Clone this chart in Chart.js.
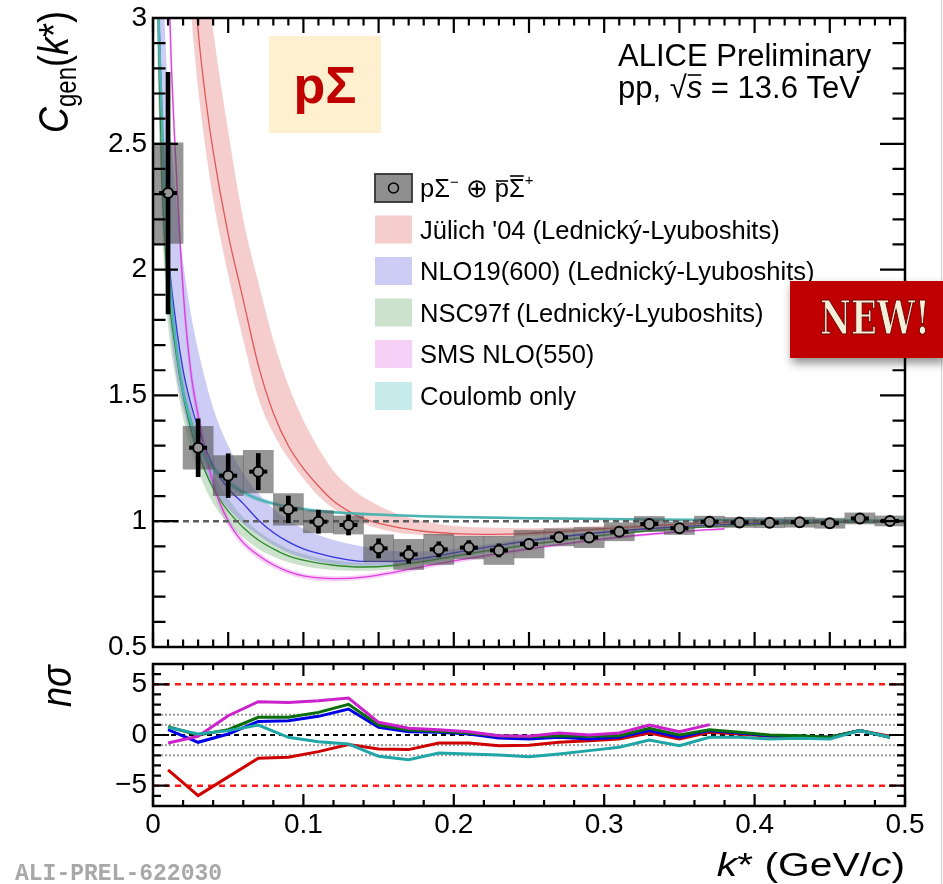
<!DOCTYPE html>
<html lang="en">
<head>
<meta charset="utf-8">
<title>pSigma correlation</title>
<script src="https://cdn.jsdelivr.net/npm/chart.js@4.4.1/dist/chart.umd.min.js"></script>
<style>
  * { margin: 0; padding: 0; box-sizing: border-box; }
  body { width: 943px; height: 884px; background: #fff; overflow: hidden; position: relative; }
  #top { position: absolute; left: 0; top: 0; }
  #bottom { position: absolute; left: 0; top: 652px; }
</style>
</head>
<body>
<canvas id="top" width="943" height="670"></canvas>
<canvas id="bottom" width="943" height="232"></canvas>
<script>
const FONT = "'Liberation Sans', Arial, Helvetica, sans-serif";

// measured correlation function (bin centres, value, stat and syst errors)
const kBins = [0.01,0.03,0.05,0.07,0.09,0.11,0.13,0.15,0.17,0.19,0.21,0.23,0.25,0.27,0.29,0.31,0.33,0.35,0.37,0.39,0.41,0.43,0.45,0.47,0.49];
const cgen = [2.304,1.292,1.181,1.197,1.047,0.998,0.985,0.892,0.868,0.888,0.895,0.884,0.909,0.936,0.935,0.958,0.989,0.972,0.998,0.995,0.994,0.996,0.992,1.011,1.001];
const statErr = [0.48,0.115,0.087,0.072,0.053,0.046,0.04,0.038,0.035,0.03,0.028,0.026,0.02,0.016,0.014,0.012,0.011,0.01,0.01,0.009,0.009,0.008,0.008,0.008,0.008];
const sysErr = [0.2,0.085,0.08,0.085,0.063,0.044,0.036,0.054,0.06,0.06,0.045,0.056,0.055,0.034,0.04,0.036,0.03,0.025,0.022,0.02,0.02,0.02,0.02,0.022,0.02];

// model curves: central value and band edges
const kRed = [0.02,0.025,0.03,0.035,0.04,0.05,0.06,0.07,0.08,0.09,0.10,0.11,0.12,0.13,0.14,0.16,0.18,0.20,0.22,0.25,0.30,0.35,0.40,0.45,0.50];
const julichMid = [3.9,3.35,2.95,2.68,2.47,2.14,1.88,1.62,1.43,1.30,1.21,1.14,1.08,1.04,1.01,0.978,0.96,0.951,0.948,0.952,0.97,0.987,0.996,0.999,1.0];
const julichHi = [5.0,4.3,3.6,3.2,2.95,2.55,2.2,1.95,1.72,1.54,1.40,1.29,1.2,1.14,1.095,1.035,1.0,0.982,0.975,0.972,0.982,0.993,0.998,1.0,1.0];
const julichLo = [3.5,3.05,2.72,2.48,2.28,1.98,1.72,1.49,1.35,1.25,1.17,1.10,1.05,1.015,0.99,0.957,0.945,0.94,0.938,0.942,0.962,0.983,0.994,0.998,1.0];

const kTh = [0.002,0.004,0.006,0.008,0.01,0.015,0.02,0.025,0.03,0.04,0.05,0.06,0.07,0.08,0.09,0.10,0.11,0.12,0.13,0.14,0.16,0.18,0.20,0.22,0.25,0.30,0.35,0.40,0.45,0.50];
const nloMid = [3.6,3.0,2.6,2.3,2.08,1.8,1.6,1.47,1.37,1.22,1.13,1.07,1.005,0.955,0.918,0.89,0.872,0.857,0.846,0.84,0.84,0.853,0.874,0.895,0.922,0.956,0.978,0.99,0.996,0.999];
const nloHi = [4.5,3.8,3.3,2.95,2.7,2.3,2.03,1.83,1.68,1.45,1.3,1.19,1.11,1.05,1.005,0.97,0.945,0.925,0.91,0.898,0.882,0.88,0.89,0.905,0.93,0.962,0.982,0.992,0.997,1.0];
const nloLo = [3.2,2.6,2.25,2.0,1.85,1.6,1.45,1.34,1.26,1.13,1.05,0.99,0.945,0.905,0.875,0.855,0.84,0.83,0.825,0.823,0.826,0.84,0.862,0.884,0.914,0.95,0.974,0.988,0.995,0.998];
const nscMid = [3.5,2.8,2.35,2.1,1.92,1.68,1.5,1.37,1.27,1.13,1.04,0.975,0.925,0.89,0.862,0.845,0.833,0.825,0.82,0.818,0.824,0.84,0.86,0.88,0.906,0.945,0.97,0.985,0.994,0.998];
const nscHi = [3.8,3.05,2.55,2.28,2.08,1.8,1.6,1.46,1.35,1.19,1.09,1.015,0.96,0.92,0.89,0.87,0.855,0.845,0.838,0.834,0.836,0.85,0.868,0.887,0.912,0.949,0.973,0.987,0.995,0.999];
const nscLo = [3.2,2.6,2.18,1.95,1.78,1.57,1.41,1.29,1.2,1.07,0.99,0.935,0.89,0.86,0.837,0.822,0.812,0.806,0.803,0.803,0.81,0.828,0.85,0.872,0.9,0.94,0.967,0.983,0.993,0.997];
const coulMid = [3.7,2.95,2.6,2.3,2.05,1.72,1.52,1.4,1.31,1.21,1.155,1.115,1.088,1.07,1.057,1.048,1.041,1.036,1.032,1.029,1.024,1.02,1.017,1.015,1.012,1.009,1.006,1.004,1.003,1.002];
const coulHi = [3.8,3.03,2.67,2.36,2.1,1.76,1.55,1.43,1.335,1.228,1.17,1.127,1.098,1.079,1.065,1.055,1.048,1.042,1.038,1.035,1.029,1.025,1.022,1.02,1.017,1.013,1.01,1.008,1.007,1.006];
const coulLo = [3.6,2.87,2.53,2.24,2.0,1.68,1.49,1.37,1.285,1.192,1.14,1.103,1.078,1.061,1.049,1.041,1.034,1.03,1.026,1.023,1.019,1.015,1.012,1.01,1.007,1.005,1.002,1.0,0.999,0.998];

const kSms = [0.006,0.008,0.01,0.012,0.015,0.02,0.025,0.03,0.04,0.05,0.06,0.07,0.08,0.09,0.10,0.11,0.12,0.14,0.16,0.18,0.20,0.22,0.25,0.30,0.35,0.38];
const smsMid = [4.5,3.8,3.25,2.85,2.45,1.92,1.6,1.42,1.15,1.0,0.915,0.865,0.827,0.8,0.783,0.775,0.772,0.778,0.797,0.82,0.842,0.862,0.89,0.93,0.958,0.97];
const smsHi = [4.7,3.95,3.37,2.95,2.53,1.98,1.65,1.46,1.18,1.02,0.93,0.878,0.838,0.81,0.792,0.784,0.781,0.787,0.806,0.828,0.85,0.869,0.896,0.935,0.962,0.974];
const smsLo = [4.3,3.65,3.13,2.75,2.37,1.86,1.55,1.38,1.12,0.98,0.9,0.85,0.814,0.788,0.771,0.763,0.761,0.768,0.787,0.81,0.832,0.853,0.882,0.923,0.953,0.965];

// deviation in n sigma per bin
const nsJulich = [-3.44,-5.97,-4.13,-2.30,-2.2,-1.64,-0.95,-1.38,-1.44,-0.79,-0.79,-1.05,-1.0,-0.72,-0.56,-0.39,0.2,-0.39,0.26,0.1,-0.13,-0.23,-0.23,0.43,-0.13];
const nsNlo = [0.52,-0.72,0.1,1.34,1.41,1.84,2.56,0.75,0.33,0.26,0.1,-0.3,-0.39,-0.23,-0.39,-0.23,0.43,-0.23,0.43,0.2,-0.07,-0.13,-0.23,0.43,-0.23];
const nsNsc = [0.82,0.0,0.52,1.74,1.74,2.23,3.02,0.98,0.49,0.36,0.2,-0.07,-0.18,-0.07,-0.13,-0.07,0.66,0.0,0.52,0.26,0.0,-0.07,-0.23,0.43,-0.23];
const nsSms = [-0.79,-0.13,1.9,3.28,3.21,3.38,3.64,1.25,0.66,0.52,0.33,-0.07,-0.13,0.2,0.0,0.2,0.98,0.33,1.02];
const nsCoul = [0.75,0.1,0.43,0.98,-0.23,-0.66,-0.89,-2.1,-2.43,-1.77,-1.87,-1.97,-2.15,-1.87,-1.54,-1.21,-0.49,-1.05,-0.23,-0.23,-0.39,-0.33,-0.39,0.43,-0.23];

const yTicksTop = [0.5, 1, 1.5, 2, 2.5, 3];
const yTicksBottom = [-5, 0, 5];
const xTickLabels = [0, 0.1, 0.2, 0.3, 0.4, 0.5];

const models = [
  { name: "Jülich '04 (Lednický-Lyuboshits)", k: kRed, mid: julichMid, lo: julichLo, hi: julichHi,
    line: '#e05858', band: 'rgba(230,130,130,0.40)', dev: '#d00000', ns: nsJulich, w: 1.3 },
  { name: 'NLO19(600) (Lednický-Lyuboshits)', k: kTh, mid: nloMid, lo: nloLo, hi: nloHi,
    line: '#3434e0', band: 'rgba(110,110,225,0.35)', dev: '#0000e6', ns: nsNlo, w: 1.3 },
  { name: 'NSC97f (Lednický-Lyuboshits)', k: kTh, mid: nscMid, lo: nscLo, hi: nscHi,
    line: '#2d8a2d', band: 'rgba(90,160,90,0.30)', dev: '#0a6e0a', ns: nsNsc, w: 1.3 },
  { name: 'SMS NLO(550)', k: kSms, mid: smsMid, lo: smsLo, hi: smsHi,
    line: '#e03ce0', band: 'rgba(230,110,230,0.32)', dev: '#cc22cc', ns: nsSms, w: 1.3 },
  { name: 'Coulomb only', k: kTh, mid: coulMid, lo: coulLo, hi: coulHi,
    line: '#4db3b3', band: 'rgba(80,190,190,0.32)', dev: '#20a6a6', ns: nsCoul, w: 2.5 }
];

const pts = (xs, ys) => ys.map((y, i) => ({ x: xs[i], y }));

// ---- top panel datasets ----
const topSets = [];
topSets.push({ type: 'line', showLine: false, data: pts(kBins, cgen), pointStyle: 'circle', pointRadius: 5,
  pointBorderWidth: 2, pointBorderColor: '#000', pointBackgroundColor: '#979797', order: 0 });
topSets.push({ type: 'line', showLine: false, data: pts(kBins, cgen), pointStyle: 'line', pointRadius: 9,
  pointBorderWidth: 4, pointBorderColor: '#000', order: 1 });
topSets.push({ type: 'bar', data: kBins.map((k, i) => ({ x: k, y: [cgen[i] - statErr[i], cgen[i] + statErr[i]] })),
  backgroundColor: '#000', barThickness: 4, grouped: false, order: 2 });
topSets.push({ type: 'bar', data: kBins.map((k, i) => ({ x: k, y: [cgen[i] - sysErr[i], cgen[i] + sysErr[i]] })),
  backgroundColor: 'rgba(80,80,80,0.6)', barPercentage: 1, categoryPercentage: 1, grouped: false, order: 3 });
topSets.push({ type: 'line', data: [{ x: 0, y: 1 }, { x: 0.5, y: 1 }], borderColor: '#5e5e5e', borderWidth: 2.5,
  borderDash: [6, 4], pointRadius: 0, order: 4 });
models.forEach((m, i) => {
  topSets.push({ type: 'line', data: pts(m.k, m.lo), borderColor: 'transparent', borderWidth: 0, pointRadius: 0,
    fill: false, cubicInterpolationMode: 'monotone', order: 20 + i });
  topSets.push({ type: 'line', data: pts(m.k, m.hi), borderColor: 'transparent', borderWidth: 0, pointRadius: 0,
    fill: '-1', backgroundColor: m.band, cubicInterpolationMode: 'monotone', order: 20 + i });
  topSets.push({ type: 'line', data: pts(m.k, m.mid), borderColor: m.line, borderWidth: m.w, pointRadius: 0,
    fill: false, cubicInterpolationMode: 'monotone', order: 10 - i });
});

// ---- bottom panel datasets ----
const botSets = [];
const hline = (y, color, w, dash, order) => ({ type: 'line', data: [{ x: 0, y }, { x: 0.5, y }], borderColor: color,
  borderWidth: w, borderDash: dash, pointRadius: 0, order });
[2, 1, -1, -2].forEach(v => botSets.push(hline(v, '#9a9a9a', 2, [2, 2], 30)));
[5, -5].forEach(v => botSets.push(hline(v, '#ff1a1a', 2.5, [6, 5], 29)));
botSets.push(hline(0, '#000', 2, [5, 4], 28));
models.forEach((m, i) => {
  botSets.push({ type: 'line', data: pts(kBins, m.ns), borderColor: m.dev, borderWidth: 3, pointRadius: 0,
    tension: 0, order: 10 - i });
});

// ROOT-like tick marks on all four sides plus the frame
function drawFrame(chart, xt, yt) {
  const { ctx, chartArea: a, scales: { x, y } } = chart;
  ctx.save();
  ctx.strokeStyle = '#000';
  ctx.lineWidth = 2.2;
  ctx.beginPath();
  xt.forEach(t => {
    const px = x.getPixelForValue(t.v);
    ctx.moveTo(px, a.bottom); ctx.lineTo(px, a.bottom - t.len);
    ctx.moveTo(px, a.top); ctx.lineTo(px, a.top + t.len);
  });
  yt.forEach(t => {
    const py = y.getPixelForValue(t.v);
    ctx.moveTo(a.left, py); ctx.lineTo(a.left + t.len, py);
    ctx.moveTo(a.right, py); ctx.lineTo(a.right - t.len, py);
  });
  ctx.stroke();
  ctx.lineWidth = 2.5;
  ctx.strokeRect(a.left, a.top, a.right - a.left, a.bottom - a.top);
  ctx.restore();
}

// draw a sequence of text runs, returns end x
function runs(ctx, x, y, parts) {
  parts.forEach(p => {
    ctx.font = p.f;
    ctx.fillText(p.t, x, y + (p.dy || 0));
    const w = ctx.measureText(p.t).width;
    if (p.over) {
      ctx.save();
      ctx.lineWidth = 1.6;
      ctx.beginPath();
      ctx.moveTo(x + 1, y - p.over); ctx.lineTo(x + w - 1, y - p.over);
      ctx.stroke();
      ctx.restore();
    }
    x += w;
  });
  return x;
}

function slideEdge(ctx, h) {
  ctx.save();
  ctx.strokeStyle = '#cfcfcf';
  ctx.lineWidth = 1;
  ctx.beginPath(); ctx.moveTo(941.5, 0); ctx.lineTo(941.5, h); ctx.stroke();
  ctx.restore();
}

const topTicksX = [], topTicksY = [], botTicksX = [], botTicksY = [];
for (let i = 0; i <= 50; i++) topTicksX.push({ v: i / 100, len: i % 5 === 0 ? 15 : 7.5 });
for (let i = 5; i <= 30; i++) topTicksY.push({ v: i / 10, len: i % 5 === 0 ? 25 : 12.5 });
for (let i = 0; i <= 25; i++) botTicksX.push({ v: i * 0.02, len: i % 5 === 0 ? 12 : 6 });
for (let i = -7; i <= 7; i++) botTicksY.push({ v: i, len: i % 5 === 0 ? 16 : 8 });

const legendRows = [188, 229.5, 271, 312.5, 354, 396];

const topDecor = {
  id: 'topDecor',
  afterDraw(chart) {
    const ctx = chart.ctx;
    drawFrame(chart, topTicksX, topTicksY);
    ctx.save();
    ctx.fillStyle = '#000';
    ctx.strokeStyle = '#000';
    ctx.textBaseline = 'alphabetic';

    // y title C_gen(k*)
    ctx.save();
    ctx.translate(68, 133);
    ctx.scale(1.2, 1);
    ctx.rotate(-Math.PI / 2);
    runs(ctx, 0, 0, [
      { t: 'C', f: `italic 36px ${FONT}` },
      { t: 'gen', f: `24px ${FONT}`, dy: 7 },
      { t: '(', f: `36px ${FONT}` },
      { t: 'k', f: `italic 36px ${FONT}` },
      { t: '*)', f: `36px ${FONT}` }
    ]);
    ctx.restore();

    // system label
    ctx.font = `31px ${FONT}`;
    ctx.fillText('ALICE Preliminary', 618, 66);
    let x = runs(ctx, 618, 98, [{ t: 'pp, ', f: `31px ${FONT}` }, { t: '√', f: `31px ${FONT}` }]);
    x = runs(ctx, x, 98, [{ t: 's', f: `italic 31px ${FONT}`, over: 23 }]);
    runs(ctx, x, 98, [{ t: ' = 13.6 TeV', f: `31px ${FONT}` }]);

    // pSigma tag
    ctx.fillStyle = '#fff0cf';
    ctx.fillRect(269, 36, 112, 97);
    ctx.fillStyle = '#c00000';
    ctx.font = `bold 52px ${FONT}`;
    ctx.textAlign = 'center';
    ctx.fillText('pΣ', 325, 103);
    ctx.textAlign = 'left';

    // legend
    const bx = 375, bw = 37, bh = 28;
    let cy = legendRows[0];
    ctx.fillStyle = '#8f8f8f';
    ctx.fillRect(bx, cy - bh / 2, bw, bh);
    ctx.lineWidth = 1.8;
    ctx.strokeStyle = '#333';
    ctx.strokeRect(bx, cy - bh / 2, bw, bh);
    ctx.beginPath(); ctx.arc(bx + bw / 2, cy, 5, 0, 2 * Math.PI); ctx.strokeStyle = '#000'; ctx.lineWidth = 1.5; ctx.stroke();
    ctx.fillStyle = '#000';
    runs(ctx, 420, cy + 9, [
      { t: 'pΣ', f: `25.5px ${FONT}` },
      { t: '−', f: `15px ${FONT}`, dy: -10 },
      { t: ' ⊕ ', f: `25.5px ${FONT}` },
      { t: 'p', f: `25.5px ${FONT}`, over: 16 },
      { t: 'Σ', f: `25.5px ${FONT}`, over: 21 },
      { t: '+', f: `15px ${FONT}`, dy: -12 }
    ]);
    models.forEach((m, i) => {
      cy = legendRows[i + 1];
      ctx.fillStyle = '#fff';
      ctx.fillRect(bx, cy - bh / 2, bw, bh);
      ctx.fillStyle = m.band;
      ctx.fillRect(bx, cy - bh / 2, bw, bh);
      ctx.fillStyle = '#000';
      ctx.font = `25.5px ${FONT}`;
      ctx.fillText(m.name, 420, cy + 9);
    });

    slideEdge(ctx, chart.height);

    // NEW! badge
    ctx.save();
    ctx.shadowColor = 'rgba(0,0,0,0.45)';
    ctx.shadowBlur = 9;
    ctx.shadowOffsetX = 2;
    ctx.shadowOffsetY = 5;
    ctx.fillStyle = '#c00000';
    ctx.fillRect(790, 281, 153, 77);
    ctx.restore();
    ctx.save();
    ctx.font = "bold 46px 'DejaVu Serif', 'Liberation Serif', serif";
    const nw = ctx.measureText('NEW!').width;
    ctx.translate(875, 334);
    ctx.scale(110 / nw, 1);
    ctx.textAlign = 'center';
    ctx.fillStyle = '#f4efd8';
    ctx.strokeStyle = '#6e0000';
    ctx.lineWidth = 1.2;
    ctx.fillText('NEW!', 0, 0);
    ctx.strokeText('NEW!', 0, 0);
    ctx.restore();

    ctx.restore();
  }
};

const bottomDecor = {
  id: 'bottomDecor',
  afterDraw(chart) {
    const ctx = chart.ctx;
    drawFrame(chart, botTicksX, botTicksY);
    ctx.save();
    ctx.fillStyle = '#000';
    ctx.textBaseline = 'alphabetic';

    // n sigma title
    ctx.save();
    ctx.translate(71, 55);
    ctx.scale(1.2, 1);
    ctx.rotate(-Math.PI / 2);
    runs(ctx, 0, 0, [{ t: 'nσ', f: `italic 36px ${FONT}` }]);
    ctx.restore();

    // x title, right aligned with the frame
    const parts = [
      { t: 'k', f: `italic 34px ${FONT}` },
      { t: '* (GeV/', f: `34px ${FONT}` },
      { t: 'c', f: `italic 34px ${FONT}` },
      { t: ')', f: `34px ${FONT}` }
    ];
    let w = 0;
    parts.forEach(p => { ctx.font = p.f; w += ctx.measureText(p.t).width; });
    ctx.save();
    ctx.translate(chart.chartArea.right - w * 1.2, 224);
    ctx.scale(1.2, 1);
    runs(ctx, 0, 0, parts);
    ctx.restore();

    ctx.fillStyle = '#a8a8a8';
    ctx.font = "bold 23px 'Liberation Mono', 'DejaVu Sans Mono', monospace";
    ctx.fillText('ALI-PREL-622030', 15, 228);

    slideEdge(ctx, chart.height);
    ctx.restore();
  }
};

const tickFont = { family: FONT, size: 28 };
const fmt = v => (v < 0 ? '\u2212' + Math.abs(v) : String(v));

new Chart(document.getElementById('top'), {
  type: 'line',
  data: { datasets: topSets },
  plugins: [topDecor],
  options: {
    responsive: false,
    animation: false,
    events: [],
    layout: { padding: { left: 0, right: 38, top: 18, bottom: 0 } },
    plugins: { legend: { display: false }, tooltip: { enabled: false } },
    scales: {
      x: {
        type: 'linear', min: 0, max: 0.5, offset: false,
        grid: { display: false, drawTicks: false }, border: { display: false },
        ticks: { display: false },
        afterBuildTicks: s => { s.ticks = xTickLabels.map(v => ({ value: v })); },
        afterFit: s => { s.height = 23; s.paddingLeft = 0; s.paddingRight = 0; }
      },
      y: {
        type: 'linear', min: 0.5, max: 3,
        grid: { display: false, drawTicks: false }, border: { display: false },
        ticks: { font: tickFont, color: '#000', padding: 6, callback: fmt },
        afterBuildTicks: s => { s.ticks = yTicksTop.map(v => ({ value: v })); },
        afterFit: s => { s.width = 153; s.paddingTop = 0; s.paddingBottom = 0; }
      }
    }
  }
});

new Chart(document.getElementById('bottom'), {
  type: 'line',
  data: { datasets: botSets },
  plugins: [bottomDecor],
  options: {
    responsive: false,
    animation: false,
    events: [],
    layout: { padding: { left: 0, right: 38, top: 12, bottom: 0 } },
    plugins: { legend: { display: false }, tooltip: { enabled: false } },
    scales: {
      x: {
        type: 'linear', min: 0, max: 0.5, offset: false,
        grid: { display: false, drawTicks: false }, border: { display: false },
        ticks: { font: tickFont, color: '#000', padding: 2, maxRotation: 0, callback: fmt },
        afterBuildTicks: s => { s.ticks = xTickLabels.map(v => ({ value: v })); },
        afterFit: s => { s.height = 78; s.paddingLeft = 0; s.paddingRight = 0; }
      },
      y: {
        type: 'linear', min: -7, max: 7,
        grid: { display: false, drawTicks: false }, border: { display: false },
        ticks: { font: tickFont, color: '#000', padding: 6, callback: fmt },
        afterBuildTicks: s => { s.ticks = yTicksBottom.map(v => ({ value: v })); },
        afterFit: s => { s.width = 153; s.paddingTop = 0; s.paddingBottom = 0; }
      }
    }
  }
});
</script>
</body>
</html>
